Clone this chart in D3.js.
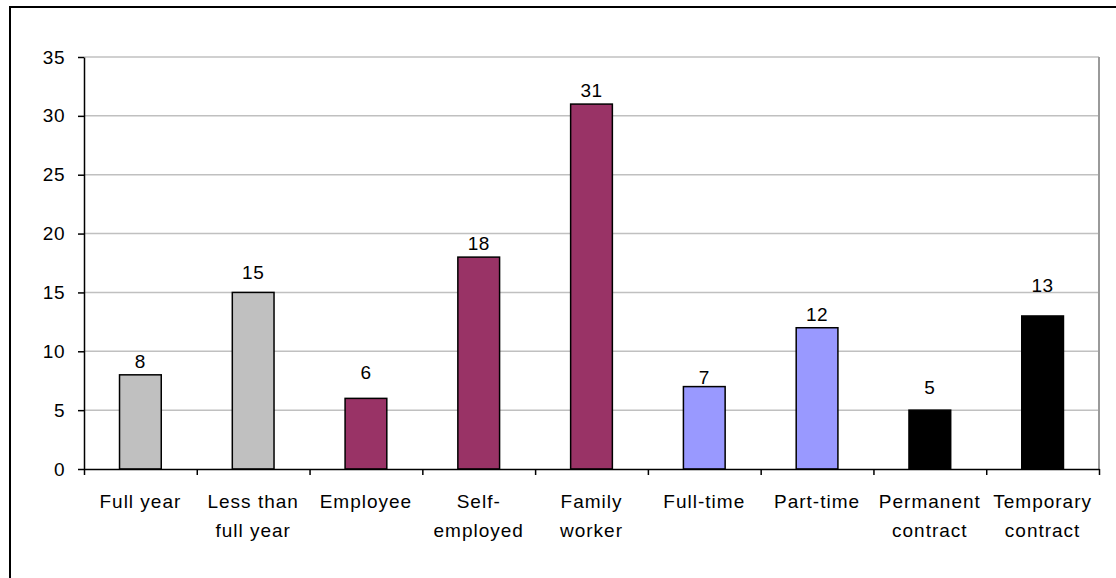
<!DOCTYPE html>
<html>
<head>
<meta charset="utf-8">
<script src="https://cdn.jsdelivr.net/npm/d3@7"></script>
<style>
  body { margin: 0; background: #fff; }
  svg { display: block; font-family: 'Liberation Sans', Arial, sans-serif; }
</style>
</head>
<body>
<div id="chart"></div>
<script>
// data
const categories = [
    ['Full year'],
    ['Less than', 'full year'],
    ['Employee'],
    ['Self-', 'employed'],
    ['Family', 'worker'],
    ['Full-time'],
    ['Part-time'],
    ['Permanent', 'contract'],
    ['Temporary', 'contract'],
];
const values = [8, 15, 6, 18, 31, 7, 12, 5, 13];
const barColors = ['#c0c0c0', '#c0c0c0', '#993366', '#993366', '#993366', '#9999ff', '#9999ff', '#000000', '#000000'];
const yTicks = [0, 5, 10, 15, 20, 25, 30, 35];
// value labels were nudged by hand in the original, px
const labelNudge = [0, -6, -12, 0, 0, 4, 0, -9, -17];

const width = 1116,
    height = 578;
const margin = { top: 57, right: 17, bottom: 109, left: 84 };
const innerW = width - margin.left - margin.right;
const innerH = height - margin.top - margin.bottom;

const svg = d3.select('#chart').append('svg').attr('width', width).attr('height', height);

// outer chart frame (only left and top visible in the picture)
svg.append('rect')
    .attr('x', 10)
    .attr('y', 7)
    .attr('width', width + 20)
    .attr('height', height + 20)
    .attr('fill', 'none')
    .attr('stroke', '#000')
    .attr('stroke-width', 2);

const g = svg.append('g').attr('transform', `translate(${margin.left}, ${margin.top})`);

const idx = categories.map((d, i) => i);
const x = d3.scaleBand().domain(idx).range([0, innerW]).padding(0);
const xEdge = d3.scaleLinear().domain([0, categories.length]).range([0, innerW]);
const y = d3.scaleLinear().domain([0, 35]).range([innerH, 0]);

// gridlines
g.selectAll('.grid')
    .data(yTicks.filter((d) => d > 0))
    .enter()
    .append('line')
    .attr('x1', 0)
    .attr('x2', innerW)
    .attr('y1', (d) => y(d))
    .attr('y2', (d) => y(d))
    .attr('stroke', '#c0c0c0')
    .attr('stroke-width', 1.5);

// plot area right border
g.append('line')
    .attr('x1', innerW)
    .attr('x2', innerW)
    .attr('y1', 0)
    .attr('y2', innerH)
    .attr('stroke', '#9a9a9a')
    .attr('stroke-width', 2);

// bars
const barW = x.bandwidth() * 0.37;
g.selectAll('.bar')
    .data(values)
    .enter()
    .append('rect')
    .attr('class', 'bar')
    .attr('x', (d, i) => x(i) + x.bandwidth() / 2 - barW / 2)
    .attr('y', (d) => y(d))
    .attr('width', barW)
    .attr('height', (d) => innerH - y(d))
    .attr('fill', (d, i) => barColors[i])
    .attr('stroke', '#000')
    .attr('stroke-width', 1.5);

// value labels
g.selectAll('.val')
    .data(values)
    .enter()
    .append('text')
    .attr('x', (d, i) => x(i) + x.bandwidth() / 2)
    .attr('y', (d, i) => y(d) - 7 + labelNudge[i])
    .attr('text-anchor', 'middle')
    .style('font-size', '19px')
    .style('letter-spacing', '0.5px')
    .attr('fill', '#000')
    .text((d) => d);

// y axis
const yAxis = g.append('g').call(d3.axisLeft(y).tickValues(yTicks).tickSize(6).tickPadding(13).tickSizeOuter(0));
yAxis.select('.domain').attr('stroke', '#000').attr('stroke-width', 1.5);
yAxis.selectAll('.tick line').attr('stroke', '#000').attr('stroke-width', 1.5);
yAxis.selectAll('text')
    .style('font-size', '19px')
    .style('letter-spacing', '0.5px')
    .attr('fill', '#000')
    .style('font-family', "'Liberation Sans', Arial, sans-serif");

// x axis: ticks at category boundaries
const xAxis = g
    .append('g')
    .attr('transform', `translate(0, ${innerH})`)
    .call(d3.axisBottom(xEdge).ticks(categories.length).tickSize(6).tickSizeOuter(0).tickFormat(''));
xAxis.select('.domain').attr('stroke', '#000').attr('stroke-width', 1.5);
xAxis.selectAll('.tick line').attr('stroke', '#000').attr('stroke-width', 1.5);

// category labels
const labels = g
    .selectAll('.cat')
    .data(categories)
    .enter()
    .append('text')
    .attr('class', 'cat')
    .attr('text-anchor', 'middle')
    .attr('transform', (d, i) => `translate(${x(i) + x.bandwidth() / 2}, ${innerH + 39})`)
    .style('font-size', '19px')
    .style('letter-spacing', '1px')
    .attr('fill', '#000');
labels
    .selectAll('tspan')
    .data((d) => d)
    .enter()
    .append('tspan')
    .attr('x', 0)
    .attr('y', (d, i) => i * 29)
    .text((d) => d);
</script>
</body>
</html>
